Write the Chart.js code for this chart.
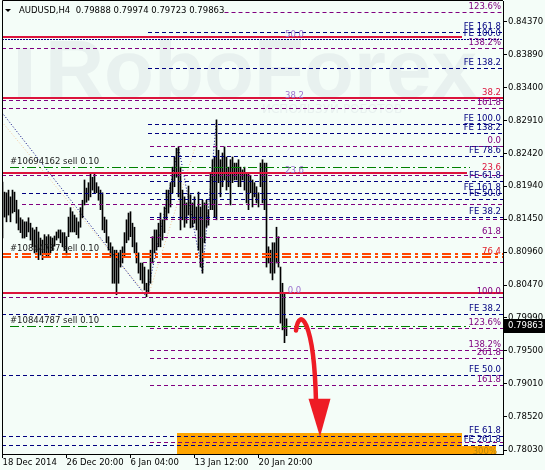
<!DOCTYPE html>
<html>
<head>
<meta charset="utf-8">
<script src="https://cdn.jsdelivr.net/npm/chart.js@4.4.1/dist/chart.umd.min.js"></script>
<style>
  html, body { margin: 0; padding: 0; background: #f4fdf8; }
</style>
</head>
<body>
<canvas id="myChart" width="545" height="470"></canvas>
<script>
// ---- data ----
const symbol = "AUDUSD,H4";
const lastBar = [0.79888, 0.79974, 0.79723, 0.79863]; // open high low close

const timeLabels = ["18 Dec 2014", "26 Dec 20:00", "6 Jan 04:00", "13 Jan 12:00", "20 Jan 20:00"];
const timeTickBars = [0, 32, 64, 96, 128];
const priceTicks = [0.84370, 0.83890, 0.83400, 0.82910, 0.82420, 0.81940, 0.81450,
                    0.80960, 0.80470, 0.79990, 0.79500, 0.79010, 0.78520, 0.78030];

const barHighs = [
  0.8200, 0.8185, 0.8184, 0.8188, 0.8178, 0.8188, 0.8185, 0.8173, 0.8159, 0.8147,
  0.8144, 0.8141, 0.8141, 0.8147, 0.8139, 0.8132, 0.8129, 0.8133, 0.8126, 0.8117,
  0.8114, 0.8122, 0.8119, 0.8122, 0.8119, 0.8117, 0.8120, 0.8126, 0.8129, 0.8129,
  0.8125, 0.8125, 0.8119, 0.8148, 0.8162, 0.8156, 0.8151, 0.8147, 0.8141, 0.8162,
  0.8173, 0.8203, 0.8191, 0.8199, 0.8213, 0.8207, 0.8213, 0.8199, 0.8193, 0.8188,
  0.8184, 0.8148, 0.8144, 0.8119, 0.8110, 0.8104, 0.8099, 0.8099, 0.8095, 0.8099,
  0.8104, 0.8125, 0.8144, 0.8154, 0.8156, 0.8139, 0.8133, 0.8110, 0.8095, 0.8080,
  0.8080, 0.8074, 0.8050, 0.8070, 0.8099, 0.8119, 0.8129, 0.8129, 0.8139, 0.8154,
  0.8144, 0.8163, 0.8188, 0.8188, 0.8199, 0.8222, 0.8237, 0.8250, 0.8252, 0.8222,
  0.8188, 0.8178, 0.8169, 0.8194, 0.8181, 0.8169, 0.8178, 0.8163, 0.8185, 0.8163,
  0.8173, 0.8169, 0.8173, 0.8159, 0.8213, 0.8233, 0.8237, 0.8292, 0.8247, 0.8233,
  0.8243, 0.8252, 0.8237, 0.8222, 0.8233, 0.8237, 0.8228, 0.8228, 0.8233, 0.8222,
  0.8218, 0.8222, 0.8213, 0.8213, 0.8210, 0.8203, 0.8199, 0.8193, 0.8184, 0.8228,
  0.8233, 0.8228, 0.8228, 0.8104, 0.8099, 0.8110, 0.8110, 0.8133, 0.8119, 0.8074,
  0.8050, 0.8036, 0.79974
];
const barLows = [
  0.8117, 0.8148, 0.8141, 0.8151, 0.8141, 0.8154, 0.8156, 0.8139, 0.8129, 0.8125,
  0.8117, 0.8117, 0.8119, 0.8126, 0.8114, 0.8104, 0.8095, 0.8096, 0.8085, 0.8092,
  0.8085, 0.8095, 0.8089, 0.8089, 0.8095, 0.8099, 0.8105, 0.8114, 0.8117, 0.8110,
  0.8104, 0.8099, 0.8092, 0.8119, 0.8126, 0.8126, 0.8126, 0.8122, 0.8117, 0.8133,
  0.8147, 0.8166, 0.8170, 0.8173, 0.8178, 0.8188, 0.8184, 0.8184, 0.8173, 0.8159,
  0.8129, 0.8125, 0.8110, 0.8099, 0.8089, 0.8050, 0.8050, 0.8033, 0.8050, 0.8074,
  0.8080, 0.8089, 0.8110, 0.8114, 0.8119, 0.8104, 0.8095, 0.8080, 0.8065, 0.8055,
  0.8050, 0.8040, 0.8030, 0.8036, 0.8050, 0.8080, 0.8095, 0.8099, 0.8104, 0.8104,
  0.8114, 0.8125, 0.8144, 0.8154, 0.8163, 0.8184, 0.8193, 0.8207, 0.8178, 0.8129,
  0.8144, 0.8133, 0.8139, 0.8151, 0.8132, 0.8133, 0.8139, 0.8129, 0.8099, 0.8074,
  0.8065, 0.8110, 0.8133, 0.8136, 0.8159, 0.8159, 0.8148, 0.8144, 0.8199, 0.8178,
  0.8193, 0.8203, 0.8188, 0.8193, 0.8166, 0.8199, 0.8203, 0.8203, 0.8193, 0.8193,
  0.8203, 0.8188, 0.8169, 0.8159, 0.8184, 0.8163, 0.8178, 0.8169, 0.8163, 0.8193,
  0.8169, 0.8159, 0.8074, 0.8080, 0.8065, 0.8055, 0.8065, 0.8080, 0.8074, 0.7991,
  0.7981, 0.7962, 0.79723
];

// zigzag swing points (bar index, price)
const zigzagBars = [-1.25, 72, 88, 100, 107];
const zigzagPrices = [0.83066, 0.8030, 0.8252, 0.8065, 0.8292];
const channelBars = [-0.25, 72.75, 97];
const channelPrices = [0.8289, 0.8030, 0.8258];

// horizontal levels: price, kind, first bar, last bar, right-hand label
const levelPrices = [0.84518, 0.84222, 0.84148, 0.84118, 0.83985, 0.83689, 0.83245, 0.83215, 0.83097, 0.82860,
                     0.82726, 0.82534, 0.82386, 0.82223, 0.82134, 0.82104, 0.82015, 0.81838, 0.81749, 0.81675,
                     0.81482, 0.81453, 0.81186, 0.80934, 0.80890, 0.80816, 0.80357, 0.80297, 0.80045, 0.79868,
                     0.79839, 0.79512, 0.79394, 0.79142, 0.78994, 0.78241, 0.78156, 0.78110];
const levelKinds = ["fibo", "fe", "red", "feDot", "fibo", "fe", "red", "fibo", "fibo", "fe",
                    "fe", "fibo", "fe", "order", "red", "fibo", "fe", "fe", "fe", "fibo",
                    "fe", "fibo", "fibo", "stop", "stop", "fibo", "red", "fibo", "fe", "order",
                    "fibo", "fibo", "fibo", "fe", "fibo", "fe", "fibo", "fe"];
const levelFrom = [111, 72.75, -0.25, -0.25, -0.25, 72.75, -0.25, -0.25, -0.25, 72.75,
                   72.75, 73.75, 73.75, 3.75, -0.25, -0.25, 73.75, 9.75, 73.75, 9.75,
                   73.75, 73.75, 73.75, -0.25, -0.25, 70.25, -0.25, -0.25, -0.25, 3.75,
                   73.75, 73.75, 73.75, -0.25, 73.75, -0.25, 73.75, -0.25];
const levelTo = [250.25, 250.25, 229.75, 250.25, 250.25, 250.25, 250.25, 250.25, 250.25, 250.25,
                 250.25, 250.25, 250.25, 233.75, 232.25, 250.25, 250.25, 250.25, 250.25, 250.25,
                 250.25, 250.25, 250.25, 250.25, 250.25, 250.25, 250.25, 250.25, 250.25, 233.75,
                 250.25, 250.25, 250.25, 250.25, 250.25, 250.25, 250.25, 250.25];
const levelLabels = ["123.6%", "FE 161.8", "", "FE 100.0", "138.2%", "FE 138.2", "38.2", "", "161.8", "FE 100.0",
                     "FE 138.2", "0.0", "FE 78.6", "", "23.6", "", "FE 61.8", "FE 161.8", "FE 50.0", "",
                     "FE 38.2", "", "61.8", "", "76.4", "", "", "100.0", "FE 38.2", "",
                     "123.6%", "138.2%", "261.8", "FE 50.0", "161.8", "FE 61.8", "", "FE 261.8"];

// fibo retracement captions in the middle of the chart
const fiboMidTexts = ["50.0", "38.2", "23.6", "0.0"];
const fiboMidPrices = [0.84148, 0.83245, 0.82134, 0.80357];
const fiboMidBar = 146;

// open orders
const orderTexts = ["#10694162 sell 0.10", "#10844787 sell 0.10", "#10844787 sell 0.10"];
const orderPrices = [0.82223, 0.80934, 0.79868];

// target zone (price from / to, bar from / to)
const zoneTop = [0.78283, 0.78096];
const zoneBottom = [0.77972, 0.77972];
const zoneFrom = [87.25, 87.25];
const zoneTo = [229.75, 246.75];

// ---- styles ----
const lineStyle = {
  red:   { color: "#dc143c", width: 2, dash: [] },
  fe:    { color: "#000080", width: 1, dash: [4, 3] },
  feDot: { color: "#000080", width: 1, dash: [2, 1] },
  fibo:  { color: "#800080", width: 1, dash: [4, 3] },
  order: { color: "#008000", width: 1, dash: [9, 3, 2, 3] },
  stop:  { color: "#ff4500", width: 2, dash: [9, 4, 3, 4] },
};
const labelColor = { red: "#dc143c", fe: "#000080", feDot: "#000080", fibo: "#800080", order: "#008000", stop: "#e0202a" };
const FONT = "8.5px 'DejaVu Sans'";

// arrow drawn in data units: tail, control 1, control 2, shaft end, head left, head right, tip
const arrowPath = [[146.75, 0.7980], [148.25, 0.8016], [155.75, 0.7998], [156.75, 0.7875],
                   [153.0, 0.7879], [164.0, 0.7879], [158.75, 0.78225]];

Chart.defaults.font.family = "'DejaVu Sans'";
Chart.defaults.font.size = 8.5;
Chart.defaults.color = "#000";

const mt4Plugin = {
  id: "mt4",
  beforeDraw(chart) {
    const { ctx, width, height } = chart;
    ctx.save();
    ctx.fillStyle = "#f4fdf8";
    ctx.fillRect(0, 0, width, height);
    ctx.restore();
  },
  beforeDatasetsDraw(chart) {
    const { ctx, chartArea: a, scales: { x, y } } = chart;
    ctx.save();
    ctx.beginPath();
    ctx.rect(a.left, a.top, a.right - a.left, a.bottom - a.top);
    ctx.clip();
    // watermark
    ctx.fillStyle = "#e8f1ef";
    ctx.font = "bold 82px 'Liberation Sans'";
    ctx.textBaseline = "alphabetic";
    ctx.save();
    ctx.translate(45, 97);
    ctx.scale(432 / ctx.measureText("RoboForex").width, 1);
    ctx.fillText("RoboForex", 0, 0);
    ctx.restore();
    ctx.fillRect(18, 48, 13, 50);
    ctx.font = "12px 'DejaVu Sans'";
    ctx.fillText("ИСПОЛЬЗУЙ РОБОТОВ", 262, 113);
    // target zone
    ctx.fillStyle = "#ffa500";
    zoneTop.forEach((t, k) => {
      const x0 = x.getPixelForValue(zoneFrom[k]), x1 = x.getPixelForValue(zoneTo[k]);
      const y0 = y.getPixelForValue(t), y1 = y.getPixelForValue(zoneBottom[k]);
      ctx.fillRect(Math.round(x0), Math.round(y0), Math.round(x1 - x0), Math.round(y1 - y0) + 1);
    });
    ctx.restore();
  },
  afterDatasetsDraw(chart) {
    const { ctx, chartArea: a, scales: { x, y } } = chart;
    ctx.save();
    ctx.beginPath();
    ctx.rect(a.left, a.top, a.right - a.left, a.bottom - a.top);
    ctx.clip();
    // level lines
    levelPrices.forEach((p, k) => {
      const st = lineStyle[levelKinds[k]];
      let yy = Math.round(y.getPixelForValue(p));
      if (st.width % 2) yy += 0.5;
      ctx.strokeStyle = st.color;
      ctx.lineWidth = st.width;
      ctx.setLineDash(st.dash);
      ctx.beginPath();
      ctx.moveTo(x.getPixelForValue(levelFrom[k]), yy);
      ctx.lineTo(x.getPixelForValue(levelTo[k]), yy);
      ctx.stroke();
    });
    ctx.setLineDash([]);
    // level captions
    ctx.font = FONT;
    ctx.textAlign = "right";
    ctx.textBaseline = "bottom";
    levelPrices.forEach((p, k) => {
      if (!levelLabels[k]) return;
      ctx.fillStyle = labelColor[levelKinds[k]];
      ctx.fillText(levelLabels[k], a.right - 2, Math.round(y.getPixelForValue(p)) - 0.5);
    });
    ctx.fillStyle = "#b8860b";
    ctx.fillText("300%", a.right - 6, a.bottom + 2);
    ctx.textAlign = "center";
    ctx.fillStyle = "#9b72cf";
    fiboMidTexts.forEach((t, k) => {
      ctx.fillText(t, x.getPixelForValue(fiboMidBar), Math.round(y.getPixelForValue(fiboMidPrices[k])) + 2);
    });
    // orders
    ctx.textAlign = "left";
    ctx.fillStyle = "#1a1a1a";
    orderTexts.forEach((t, k) => {
      ctx.fillText(t, 10, Math.round(y.getPixelForValue(orderPrices[k])) - 0.5);
    });
    // arrow
    const ap = arrowPath.map(([i, p]) => [x.getPixelForValue(i), y.getPixelForValue(p)]);
    ctx.strokeStyle = "#ee1c25";
    ctx.fillStyle = "#ee1c25";
    ctx.lineWidth = 4.5;
    ctx.lineCap = "round";
    ctx.beginPath();
    ctx.moveTo(ap[0][0], ap[0][1]);
    ctx.bezierCurveTo(ap[1][0], ap[1][1], ap[2][0], ap[2][1], ap[3][0], ap[3][1]);
    ctx.stroke();
    ctx.beginPath();
    ctx.moveTo(ap[4][0], ap[4][1]);
    ctx.lineTo(ap[5][0], ap[5][1]);
    ctx.lineTo(ap[6][0], ap[6][1]);
    ctx.closePath();
    ctx.fill();
    ctx.restore();
  },
  afterDraw(chart) {
    const { ctx, chartArea: a, scales: { y }, width } = chart;
    ctx.save();
    // frame left / top
    ctx.strokeStyle = "#000";
    ctx.lineWidth = 1;
    ctx.beginPath();
    ctx.moveTo(a.left + 0.5, a.bottom);
    ctx.lineTo(a.left + 0.5, a.top - 0.5);
    ctx.lineTo(a.right, a.top - 0.5);
    ctx.stroke();
    // title
    ctx.fillStyle = "#000";
    ctx.beginPath();
    ctx.moveTo(5, 9); ctx.lineTo(11, 9); ctx.lineTo(8, 12); ctx.closePath();
    ctx.fill();
    ctx.font = FONT;
    ctx.textBaseline = "middle";
    ctx.textAlign = "left";
    ctx.fillText(symbol + "  " + lastBar.map(v => v.toFixed(5)).join(" "), 19, 11);
    // last price box
    const yy = Math.round(y.getPixelForValue(lastBar[3]));
    ctx.fillRect(a.right, yy - 7, width - a.right, 14);
    ctx.fillStyle = "#fff";
    ctx.fillText(lastBar[3].toFixed(5), a.right + 5, yy);
    ctx.restore();
  }
};

const ctx = document.getElementById("myChart");
new Chart(ctx, {
  data: {
    datasets: [
      {
        type: "bar",
        data: barHighs.map((h, i) => ({ x: i, y: [barLows[i], h] })),
        backgroundColor: "#000",
        borderWidth: 0,
        barThickness: 1,
      },
      {
        type: "line",
        data: zigzagBars.map((b, i) => ({ x: b, y: zigzagPrices[i] })),
        borderColor: "#000080",
        borderWidth: 1,
        borderDash: [1, 2],
        pointRadius: 0,
      },
      {
        type: "line",
        data: channelBars.map((b, i) => ({ x: b, y: channelPrices[i] })),
        borderColor: "#f5c99a",
        borderWidth: 1,
        borderDash: [1, 2],
        pointRadius: 0,
      },
    ],
  },
  options: {
    responsive: false,
    devicePixelRatio: 1,
    animation: false,
    layout: { padding: { left: 2, top: 1, right: 0, bottom: 0 } },
    plugins: { legend: { display: false }, tooltip: { enabled: false } },
    scales: {
      x: {
        type: "linear",
        position: "bottom",
        offset: false,
        min: -0.25,
        max: 250.25,
        afterBuildTicks: (axis) => { axis.ticks = timeTickBars.map(v => ({ value: v })); },
        afterFit: (axis) => { axis.height = 16; axis.paddingLeft = 0; axis.paddingRight = 0; },
        ticks: {
          callback: (v, i) => timeLabels[i],
          align: "start",
          autoSkip: false,
          maxRotation: 0,
          padding: 0,
          color: "#000",
        },
        grid: { offset: false, drawOnChartArea: false, tickLength: 4, color: "#000" },
        border: { color: "#000" },
      },
      y: {
        type: "linear",
        position: "right",
        min: 0.77971,
        max: 0.84681,
        afterBuildTicks: (axis) => { axis.ticks = priceTicks.map(v => ({ value: v })); },
        afterFit: (axis) => { axis.width = 42; axis.paddingTop = 0; axis.paddingBottom = 0; },
        ticks: {
          callback: (v) => v.toFixed(5),
          padding: 1,
          color: "#000",
        },
        grid: { drawOnChartArea: false, tickLength: 4, color: "#000" },
        border: { color: "#000" },
      },
    },
  },
  plugins: [mt4Plugin],
});
</script>
</body>
</html>
